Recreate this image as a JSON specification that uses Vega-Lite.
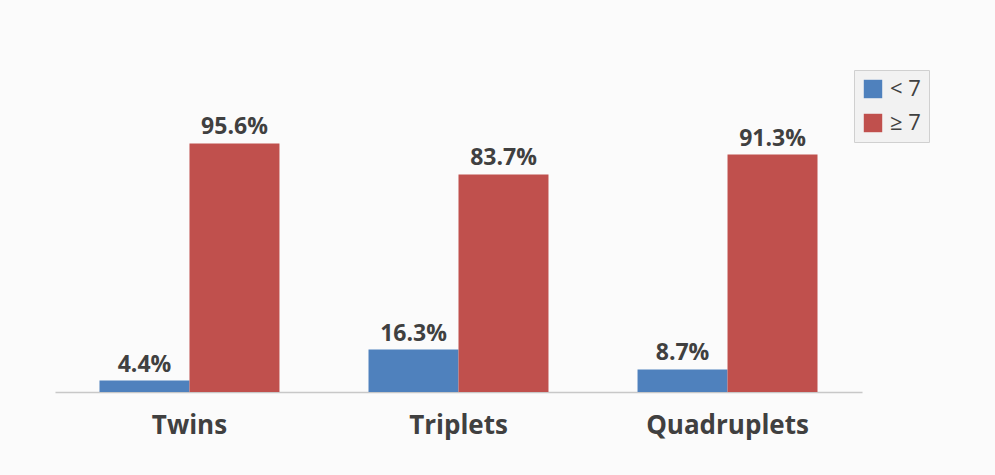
{
  "$schema": "https://vega.github.io/schema/vega-lite/v6.json",
  "width": 807,
  "height": 260,
  "autosize": {"type": "none"},
  "padding": {"left": 55, "top": 132, "right": 133, "bottom": 83},
  "background": "#fbfbfb",
  "config": {"view": {"stroke": null}, "font": "Open Sans"},
  "data": {
    "values": [
      {"group": "Twins", "score": "< 7", "pct": 0.044},
      {"group": "Twins", "score": "≥ 7", "pct": 0.956},
      {"group": "Triplets", "score": "< 7", "pct": 0.163},
      {"group": "Triplets", "score": "≥ 7", "pct": 0.837},
      {"group": "Quadruplets", "score": "< 7", "pct": 0.087},
      {"group": "Quadruplets", "score": "≥ 7", "pct": 0.913}
    ]
  },
  "encoding": {
    "x": {
      "field": "group", "type": "nominal", "sort": ["Twins", "Triplets", "Quadruplets"],
      "scale": {"paddingInner": 0.331, "paddingOuter": 0.1654},
      "axis": {"title": null, "labelAngle": 0, "ticks": false, "domainColor": "#c8c8c8", "domainWidth": 1.5,
               "labelFont": "Open Sans", "labelFontWeight": "bold", "labelFontSize": 26, "labelColor": "#404040", "labelPadding": 20}
    },
    "xOffset": {"field": "score", "type": "nominal", "sort": ["< 7", "≥ 7"], "scale": {"paddingInner": 0, "paddingOuter": 0}},
    "y": {"field": "pct", "type": "quantitative", "scale": {"domain": [0, 1]}, "axis": null}
  },
  "layer": [
    {
      "mark": {"type": "bar"},
      "encoding": {
        "color": {
          "field": "score", "type": "nominal", "sort": ["< 7", "≥ 7"],
          "scale": {"domain": ["< 7", "≥ 7"], "range": ["#4F81BD", "#C0504D"]},
          "legend": {
            "title": null, "orient": "none", "legendX": 799, "legendY": -62,
            "symbolType": "square", "symbolSize": 340, "symbolStrokeWidth": 0, "symbolOpacity": 1,
            "labelFont": "Open Sans", "labelFontSize": 22, "labelColor": "#404040", "rowPadding": 12, "labelOffset": 6,
            "fillColor": "#f2f2f2", "strokeColor": "#d0d0d0", "padding": 8
          }
        }
      }
    },
    {
      "mark": {"type": "text", "baseline": "bottom", "dy": -4, "font": "Open Sans", "fontWeight": "bold", "fontSize": 23, "color": "#404040"},
      "encoding": {"text": {"field": "pct", "type": "quantitative", "format": ".1%"}}
    }
  ]
}
